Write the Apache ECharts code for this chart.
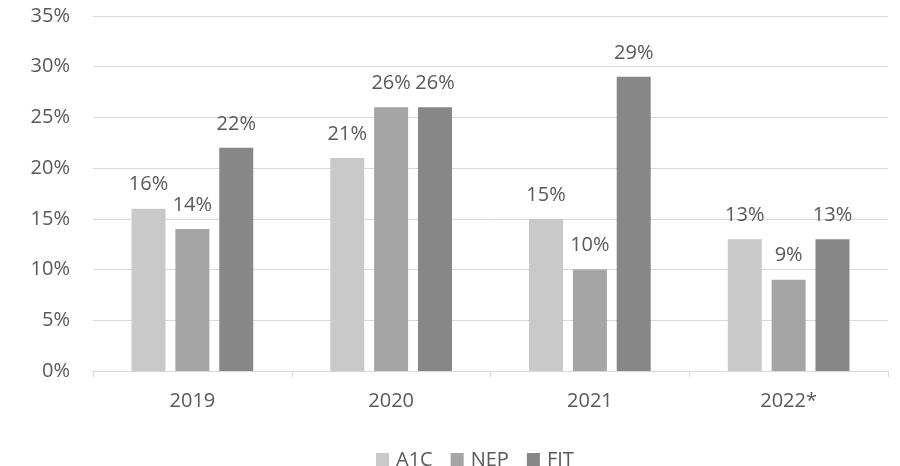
<!DOCTYPE html>
<html>
<head>
<meta charset="utf-8">
<script src="https://cdn.jsdelivr.net/npm/echarts@6/dist/echarts.min.js"></script>
<style>
  html, body { margin: 0; padding: 0; background: #fff; }
  #chart { width: 900px; height: 466px; }
</style>
</head>
<body>
<div id="chart"></div>
<script>
// Share of cases by year and program
const years = ['2019', '2020', '2021', '2022*'];
const a1c = [16, 21, 15, 13];
const nep = [14, 26, 10, 9];
const fit = [22, 26, 29, 13];
const yTicks = [0, 5, 10, 15, 20, 25, 30, 35];

const textColor = '#595959';
const font = 'Open Sans, Noto Sans, sans-serif';
const fontSize = 20;

function barSeries(name, data, color) {
  return {
    name: name,
    type: 'bar',
    data: data,
    barWidth: 34,
    barGap: '29%',
    itemStyle: { color: color },
    label: {
      show: true,
      position: 'top',
      distance: 14,
      formatter: p => p.value + '%',
      color: textColor,
      fontFamily: font,
      fontSize: fontSize
    }
  };
}

const chart = echarts.init(document.getElementById('chart'));
chart.setOption({
  animation: false,
  grid: { left: 93, right: 12, top: 16, bottom: 95 },
  legend: {
    top: 445,
    left: 371,
    itemWidth: 13,
    itemHeight: 14,
    itemGap: 18,
    icon: 'rect',
    textStyle: { color: textColor, fontFamily: font, fontSize: fontSize, padding: [0, 0, 0, 2] },
    data: ['A1C', 'NEP', 'FIT']
  },
  xAxis: {
    type: 'category',
    data: years,
    axisLine: { lineStyle: { color: '#d9d9d9', width: 1 } },
    axisTick: { show: true, length: 6, lineStyle: { color: '#d9d9d9' } },
    axisLabel: { color: textColor, fontFamily: font, fontSize: fontSize, margin: 20 }
  },
  yAxis: {
    type: 'value',
    min: yTicks[0],
    max: yTicks[yTicks.length - 1],
    interval: 5,
    axisLine: { show: false },
    axisTick: { show: false },
    splitLine: { lineStyle: { color: '#d9d9d9', width: 1 } },
    axisLabel: { color: textColor, fontFamily: font, fontSize: fontSize, margin: 23, formatter: v => v + '%' }
  },
  series: [
    barSeries('A1C', a1c, '#c9c9c9'),
    barSeries('NEP', nep, '#a5a5a5'),
    barSeries('FIT', fit, '#878787')
  ]
});
</script>
</body>
</html>
